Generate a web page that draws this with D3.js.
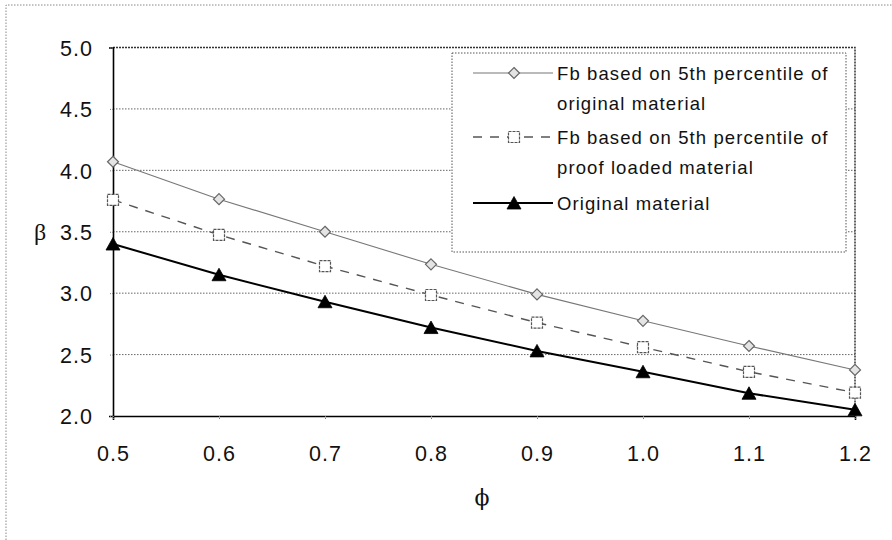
<!DOCTYPE html>
<html>
<head>
<meta charset="utf-8">
<script src="https://cdn.jsdelivr.net/npm/d3@7"></script>
<style>
  html, body { margin: 0; padding: 0; background: #fff; }
  svg { display: block; }
  text { font-family: "Liberation Sans", Arial, sans-serif; fill: #111; }
</style>
</head>
<body>
<svg id="chart" width="892" height="540"></svg>
<script>
// ---- data ----
const phi = [0.5, 0.6, 0.7, 0.8, 0.9, 1.0, 1.1, 1.2];
const fbOriginal = [4.07, 3.765, 3.50, 3.235, 2.99, 2.775, 2.57, 2.375];
const fbProofLoaded = [3.76, 3.475, 3.22, 2.985, 2.76, 2.56, 2.36, 2.19];
const originalMaterial = [3.40, 3.15, 2.93, 2.72, 2.53, 2.36, 2.185, 2.05];
const xTicks = [0.5, 0.6, 0.7, 0.8, 0.9, 1.0, 1.1, 1.2];
const yTicks = [2.0, 2.5, 3.0, 3.5, 4.0, 4.5, 5.0];
const seriesNames = [
  ["Fb based on 5th percentile of", "original material"],
  ["Fb based on 5th percentile of", "proof loaded material"],
  ["Original material"]
];
const xLabel = "\u03D5";
const yLabel = "\u03B2";

// ---- layout ----
const svg = d3.select("#chart");
const L = 113, R = 855, T = 47.5, B = 416;
const x = d3.scaleLinear().domain([0.5, 1.2]).range([L, R]);
const y = d3.scaleLinear().domain([2, 5]).range([B, T]);

// outer frame (dotted)
svg.append("path")
  .attr("d", `M6,${540} L6,5 L892,5`)
  .attr("fill", "none").attr("stroke", "#888").attr("stroke-width", 1)
  .attr("stroke-dasharray", "1.5,1.5");

// gridlines
svg.append("g").selectAll("line")
  .data(yTicks.filter(v => v > 2 && v < 5))
  .join("line")
  .attr("x1", L).attr("x2", R)
  .attr("y1", d => y(d)).attr("y2", d => y(d))
  .attr("stroke", "#666").attr("stroke-width", 1)
  .attr("stroke-dasharray", "1.5,1.5");

// plot border (top/right)
svg.append("path")
  .attr("d", `M${L},${T} L${R},${T} L${R},${B}`)
  .attr("fill", "none").attr("stroke", "#333").attr("stroke-width", 1.5)
  .attr("stroke-dasharray", "2,1");

// axes
const yAxis = svg.append("g")
  .attr("transform", `translate(${L},0)`)
  .call(d3.axisLeft(y).tickValues(yTicks).tickFormat(d3.format(".1f")).tickSize(4).tickPadding(16));
const xAxis = svg.append("g")
  .attr("transform", `translate(0,${B})`)
  .call(d3.axisBottom(x).tickValues(xTicks).tickFormat(d3.format(".1f")).tickSize(4).tickPadding(26));
[yAxis, xAxis].forEach(g => {
  g.select(".domain").attr("stroke", "#000").attr("stroke-width", 1.6);
  g.selectAll(".tick line").attr("stroke", "#777").attr("stroke-dasharray", "1,1");
  g.selectAll(".tick text")
    .attr("font-family", "'Liberation Sans', Arial, sans-serif")
    .attr("font-size", 21.5).attr("letter-spacing", "1px").attr("fill", "#1a1a1a");
});
yAxis.selectAll(".tick text").attr("dy", "0.36em");

// axis labels
svg.append("text").attr("x", 40).attr("y", 240)
  .attr("text-anchor", "middle")
  .style("font-family", "'Liberation Serif', 'DejaVu Serif', serif")
  .attr("font-size", 24).text(yLabel);
svg.append("text").attr("x", 482).attr("y", 505)
  .attr("text-anchor", "middle")
  .style("font-family", "'DejaVu Serif', serif")
  .attr("font-size", 22).text(xLabel);

// series
const series = [
  { vals: fbOriginal, stroke: "#777", width: 1.1, dash: null, marker: "diamond" },
  { vals: fbProofLoaded, stroke: "#555", width: 1.4, dash: "9,8", marker: "square" },
  { vals: originalMaterial, stroke: "#000", width: 2, dash: null, marker: "triangle" }
];
const line = d3.line().x(d => x(d[0])).y(d => y(d[1]));

function drawMarker(g, type, cx, cy) {
  if (type === "diamond") {
    g.append("path")
      .attr("d", `M${cx},${cy-5.5} L${cx+5.5},${cy} L${cx},${cy+5.5} L${cx-5.5},${cy} Z`)
      .attr("fill", "#e4e4e4").attr("stroke", "#666").attr("stroke-width", 1.2);
  } else if (type === "square") {
    g.append("rect").attr("x", cx - 5.5).attr("y", cy - 5.5)
      .attr("width", 11).attr("height", 11)
      .attr("fill", "#fff").attr("stroke", "#555").attr("stroke-width", 1.2)
      .attr("stroke-dasharray", "3,1");
  } else {
    g.append("path")
      .attr("d", `M${cx},${cy-6.5} L${cx+7},${cy+6} L${cx-7},${cy+6} Z`)
      .attr("fill", "#000").attr("stroke", "#000").attr("stroke-width", 0.8);
  }
}

series.forEach(s => {
  const pts = phi.map((p, i) => [p, s.vals[i]]);
  svg.append("path").datum(pts).attr("d", line)
    .attr("fill", "none").attr("stroke", s.stroke).attr("stroke-width", s.width)
    .attr("stroke-dasharray", s.dash);
  const mg = svg.append("g");
  pts.forEach(p => drawMarker(mg, s.marker, x(p[0]), y(p[1])));
});

// legend
const lg = svg.append("g");
lg.append("rect").attr("x", 452).attr("y", 53).attr("width", 394).attr("height", 199)
  .attr("fill", "#fff").attr("stroke", "#555").attr("stroke-width", 1)
  .attr("stroke-dasharray", "1.5,1.5");
const rowY = [73, 137, 203];
series.forEach((s, i) => {
  const ry = rowY[i];
  lg.append("line").attr("x1", 473).attr("x2", 553).attr("y1", ry).attr("y2", ry)
    .attr("stroke", s.stroke).attr("stroke-width", s.width)
    .attr("stroke-dasharray", s.dash);
  drawMarker(lg, s.marker, 514, ry);
  seriesNames[i].forEach((t, j) => {
    lg.append("text").attr("x", 557).attr("y", ry + 7 + j * 30)
      .attr("font-size", 18.5).attr("letter-spacing", "1.1px").text(t);
  });
});
</script>
</body>
</html>
